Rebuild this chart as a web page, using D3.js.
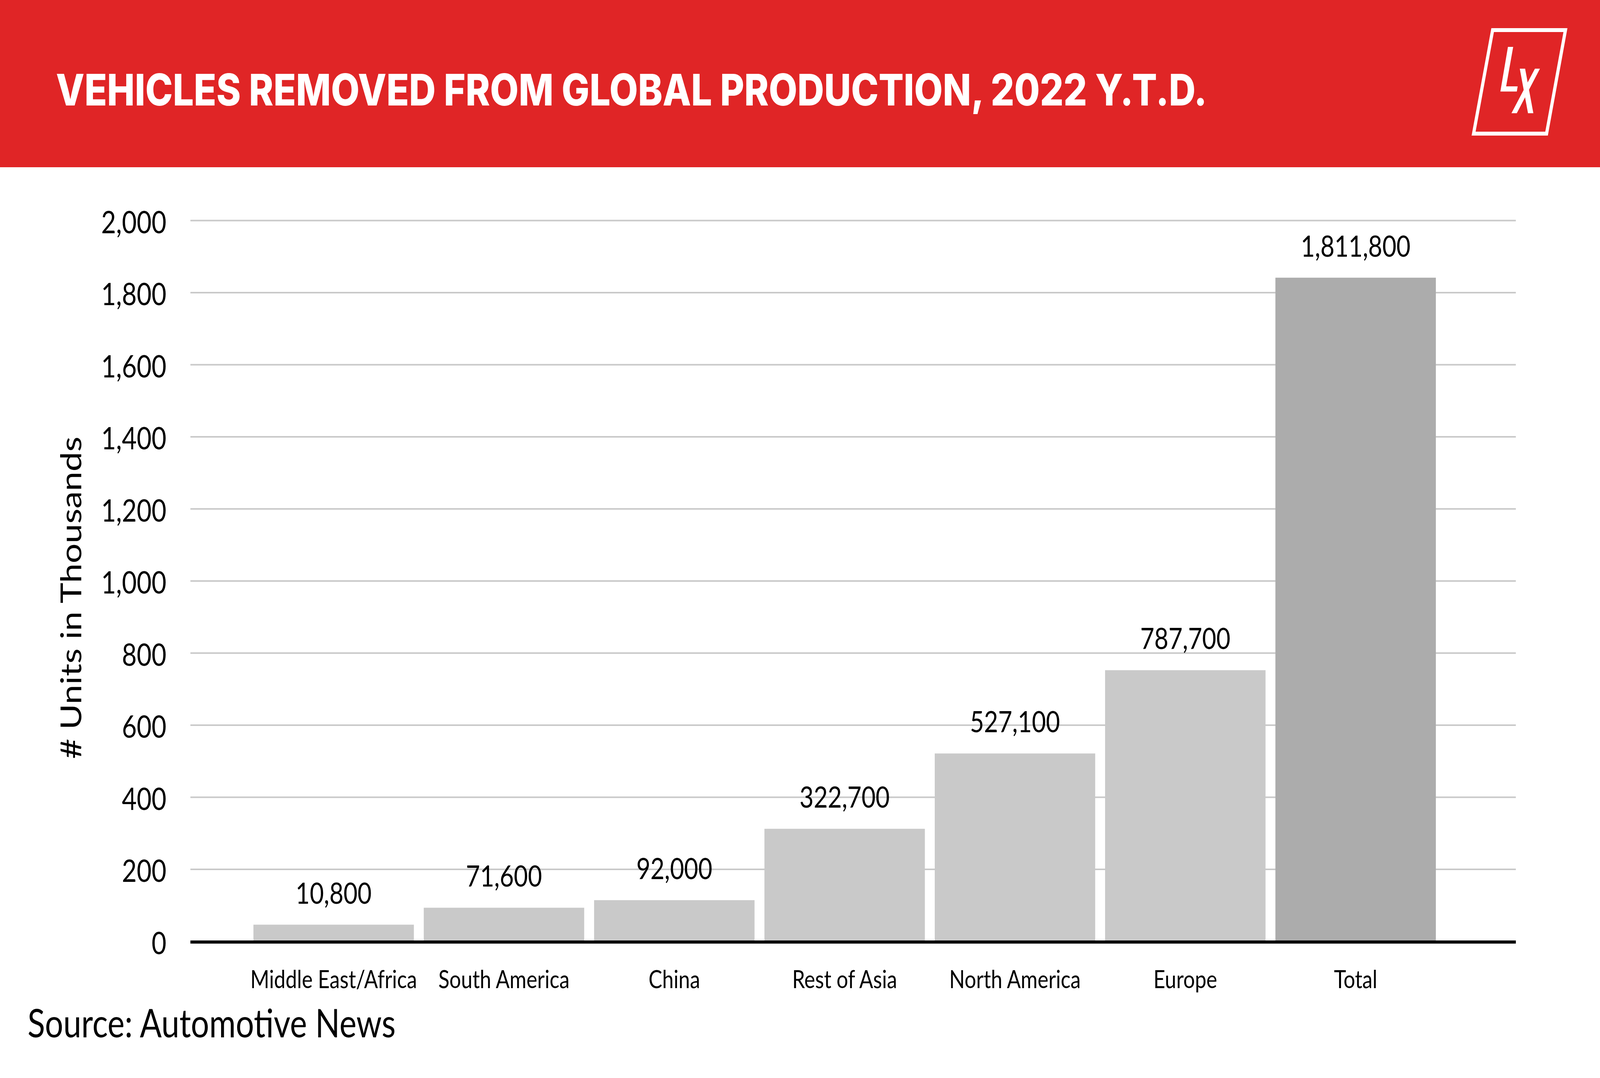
<!DOCTYPE html>
<html>
<head>
<meta charset="utf-8">
<script src="https://cdn.jsdelivr.net/npm/d3@7"></script>
<style>
  html, body { margin: 0; padding: 0; background: #fff; overflow: hidden; }
  #chart { width: 100vw; height: 100vh; }
  svg { display: block; width: 100%; height: 100%; }
</style>
</head>
<body>
<div id="chart"></div>
<script>
// data (thousands of units, bar heights)
const categories = ['Middle East/Africa', 'South America', 'China', 'Rest of Asia', 'North America', 'Europe', 'Total'];
const values = [46, 93, 114, 312, 521, 752, 1841];
const valueLabels = ['10,800', '71,600', '92,000', '322,700', '527,100', '787,700', '1,811,800'];
const yTicks = [0, 200, 400, 600, 800, 1000, 1200, 1400, 1600, 1800, 2000];

const W = 5000, H = 2759;
const font = 'Lato, "Open Sans", sans-serif';

// the window may be narrower than 5000px, so the drawing is stretched to fill it
const svg = d3.select('#chart').append('svg')
  .attr('viewBox', `0 0 ${W} ${H}`)
  .attr('preserveAspectRatio', 'none');

// red header
svg.append('rect')
  .attr('x', 0).attr('y', 0)
  .attr('width', W).attr('height', 428)
  .attr('fill', '#e02526');

svg.append('text')
  .attr('x', 175).attr('y', 270)
  .attr('fill', '#fff')
  .style('font-family', 'Inter, Lato, sans-serif')
  .style('font-weight', 800)
  .style('font-size', '112px')
  .attr('textLength', 3597)
  .attr('lengthAdjust', 'spacingAndGlyphs')
  .text('VEHICLES REMOVED FROM GLOBAL PRODUCTION, 2022 Y.T.D.');

// LX logo
const logo = svg.append('g');
logo.append('polygon')
  .attr('points', '4664.5,77 4892,77 4833,342 4605,342')
  .attr('fill', 'none')
  .attr('stroke', '#fff')
  .attr('stroke-width', 10);
logo.append('polygon')
  .attr('points', '4712.3,120 4728.7,120 4706.7,221 4742.7,221 4740,234.3 4688.7,234.3')
  .attr('fill', '#fff');
logo.append('polygon')
  .attr('points', '4749.3,175.7 4766,175.7 4791.7,289.7 4775,289.7')
  .attr('fill', '#fff');
logo.append('polygon')
  .attr('points', '4796.7,175.7 4812.3,175.7 4740,289.7 4723.3,289.7')
  .attr('fill', '#fff');

// scales
const x = d3.scaleBand()
  .domain(categories)
  .range([776.5, 4502.5])
  .paddingInner(0.058)
  .paddingOuter(0.029);

const y = d3.scaleLinear()
  .domain([0, 2000])
  .range([2409, 564]);

const gridX0 = 595, gridX1 = 4737;

// gridlines
svg.append('g')
  .attr('transform', `translate(${gridX0},0)`)
  .call(d3.axisLeft(y).tickValues(yTicks.filter(d => d > 0)).tickSize(-(gridX1 - gridX0)).tickFormat(''))
  .call(g => g.select('.domain').remove())
  .call(g => g.selectAll('line').attr('stroke', '#c9c9c9').attr('stroke-width', 4));

// y tick labels
svg.append('g')
  .selectAll('text')
  .data(yTicks)
  .join('text')
  .attr('x', 520)
  .attr('y', d => y(d) + 5)
  .attr('dy', '0.35em')
  .attr('text-anchor', 'end')
  .style('font-family', font)
  .style('font-size', '80px')
  .attr('fill', '#000')
  .text(d => d3.format(',')(d));

// bars
svg.append('g')
  .selectAll('rect')
  .data(values)
  .join('rect')
  .attr('x', (d, i) => x(categories[i]))
  .attr('y', d => y(d))
  .attr('width', x.bandwidth())
  .attr('height', d => y(0) - y(d))
  .attr('fill', (d, i) => categories[i] === 'Total' ? '#acacac' : '#c9c9c9');

// value labels
svg.append('g')
  .selectAll('text')
  .data(values)
  .join('text')
  .attr('x', (d, i) => x(categories[i]) + x.bandwidth() / 2)
  .attr('y', d => y(d) - 54)
  .attr('text-anchor', 'middle')
  .style('font-family', font)
  .style('font-size', '76px')
  .attr('fill', '#000')
  .text((d, i) => valueLabels[i]);

// baseline
svg.append('line')
  .attr('x1', gridX0).attr('x2', gridX1)
  .attr('y1', y(0) + 2).attr('y2', y(0) + 2)
  .attr('stroke', '#000')
  .attr('stroke-width', 8);

// category labels
svg.append('g')
  .attr('transform', 'translate(0,2529)')
  .call(d3.axisBottom(x).tickSize(0).tickPadding(0))
  .call(g => g.select('.domain').remove())
  .call(g => g.selectAll('text')
    .attr('y', 0).attr('dy', 0)
    .attr('fill', '#000')
    .style('font-family', font)
    .style('font-size', '64px'));

// y axis title
svg.append('text')
  .attr('transform', 'translate(254,1530) rotate(-90)')
  .attr('text-anchor', 'middle')
  .style('font-family', font)
  .style('font-size', '90px')
  .attr('fill', '#000')
  .text('# Units in Thousands');

// source
svg.append('text')
  .attr('x', 86).attr('y', 2655)
  .style('font-family', font)
  .style('font-size', '101px')
  .attr('fill', '#000')
  .text('Source: Automotive News');
</script>
</body>
</html>
